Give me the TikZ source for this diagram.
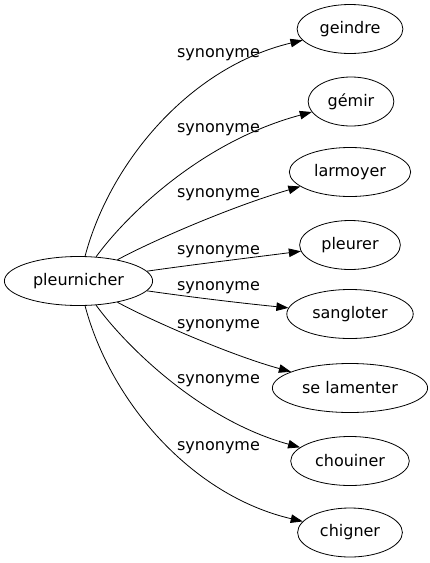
\documentclass[tikz,border=0pt]{standalone}
\usepackage{fontspec}
\setmainfont{DejaVu Sans}
\usetikzlibrary{arrows.meta,shapes.geometric}

\begin{document}
\begin{tikzpicture}[x=1pt,y=-1pt,font=\fontsize{16}{19}\selectfont]
	\useasboundingbox (0,0) rectangle (429,563);
	\begin{scope}[every node/.style={ellipse,draw,line width=0.8pt,inner xsep=7pt,inner ysep=2pt,minimum height=49pt}]
		\node (pl) at (78.5,281) {pleurnicher};
		\node (geindre) at (350,29) {geindre};
		\node (gemir) at (351,101.5) {gémir};
		\node (larmoyer) at (350,172) {larmoyer};
		\node (pleurer) at (350,245) {pleurer};
		\node (sangloter) at (350,314) {sangloter};
		\node (lamenter) at (350,388) {se lamenter};
		\node (chouiner) at (350,461) {chouiner};
		\node (chigner) at (350,532.5) {chigner};
	\end{scope}
	
	\begin{scope}[every node/.style={anchor=base}]
		\node (s1) at (218.5,57) {synonyme};
		\node (s2) at (218.5,132) {synonyme};
		\node (s3) at (218.5,197) {synonyme};
		\node (s4) at (218.5,254) {synonyme};
		\node (s5) at (218.5,290) {synonyme};
		\node (s6) at (218.5,328) {synonyme};
		\node (s7) at (218.5,383) {synonyme};
		\node (s8) at (218.5,450) {synonyme};
	\end{scope}
	
	\begin{scope}[line width=0.8pt,-{Triangle[length=12pt,width=8.5pt]}]
		\draw (pl) .. controls (110,162) and (190,67) .. (geindre);
		\draw (pl) .. controls (125,217) and (200,142) .. (gemir);
		\draw (pl) .. controls (150,242) and (230,207) .. (larmoyer);
		\draw (pl) .. controls (190,265) and (240,259) .. (pleurer);
		\draw (pl) .. controls (190,297) and (240,303) .. (sangloter);
		\draw (pl) .. controls (150,320) and (230,355) .. (lamenter);
		\draw (pl) .. controls (125,345) and (200,420) .. (chouiner);
		\draw (pl) .. controls (110,400) and (190,495) .. (chigner);
	\end{scope}
\end{tikzpicture}
\end{document}
